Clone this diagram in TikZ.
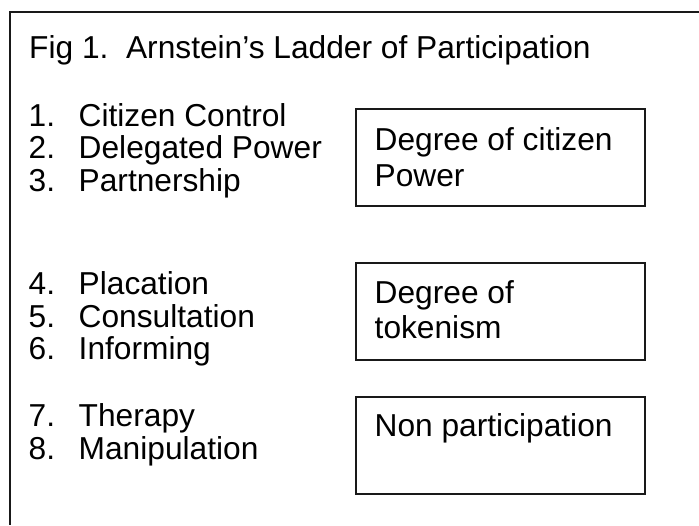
\documentclass[tikz,border=0pt]{standalone}
\usepackage{fontspec}
\setmainfont{Liberation Sans}
\usetikzlibrary{positioning}
\tikzset{
  frameline/.style={line width=1.8pt, black!90},
  degreebox/.style={draw=black!90, line width=1.8pt, minimum width=289pt, minimum height=97pt, inner sep=0pt, anchor=north west},
  ladtext/.style={anchor=base west, inner sep=0pt, font=\fontsize{31.7}{36}\selectfont},
}
\begin{document}
\begin{tikzpicture}[x=1pt,y=-1pt]
    \useasboundingbox (0,0) rectangle (699,525);
    \coordinate (topleft) at (10,12);
    \coordinate (topright) at (699,12);
    \coordinate (bottomleft) at (10,525);
    \draw[frameline] (topright) -- (topleft) -- (bottomleft);
    \node[ladtext] (title) at (29,58) {Fig 1.\ \ Arnstein’s Ladder of Participation};
    \foreach \num/\rung/\ypos in {1/Citizen Control/126, 2/Delegated Power/158, 3/Partnership/191,
        4/Placation/294, 5/Consultation/327, 6/Informing/359, 7/Therapy/426, 8/Manipulation/459}{
        \node[ladtext] (num\num) at (28.5,\ypos) {\num.};
        \node[ladtext] (rung\num) at (78.5,\ypos) {\rung};
    }
    \node[degreebox] (power) at (355,108) {};
    \node[degreebox] (tokenism) at (355,262) {};
    \node[degreebox] (nonpart) at (355,396) {};
    \node[ladtext] (powerA) at ([shift={(19.5,42)}]power.north west) {Degree of citizen};
    \node[ladtext] (powerB) at ([shift={(19.5,78)}]power.north west) {Power};
    \node[ladtext] (tokenA) at ([shift={(19.5,41)}]tokenism.north west) {Degree of};
    \node[ladtext] (tokenB) at ([shift={(19.5,76)}]tokenism.north west) {tokenism};
    \node[ladtext] (nonpartA) at ([shift={(19.5,40)}]nonpart.north west) {Non participation};
\end{tikzpicture}
\end{document}
